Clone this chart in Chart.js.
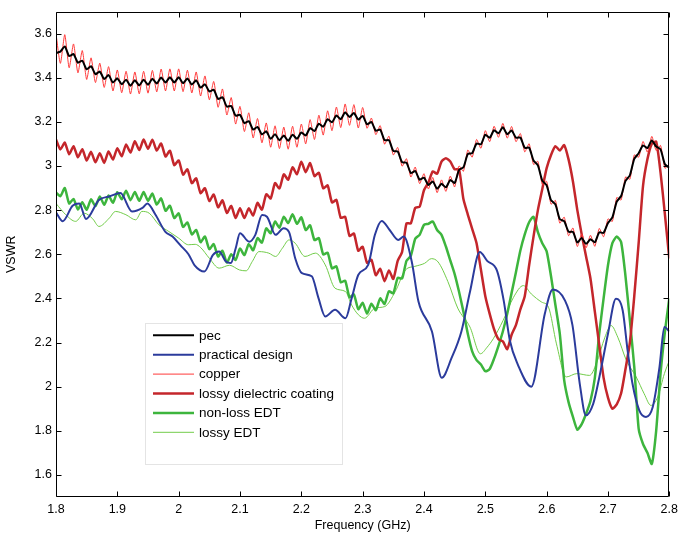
<!DOCTYPE html>
<html><head><meta charset="utf-8">
<script src="https://cdn.jsdelivr.net/npm/chart.js@4.4.1/dist/chart.umd.min.js"></script>
<style>html,body{margin:0;padding:0;background:#fff;}#wrap{width:683px;height:537px;}</style>
</head><body><div id="wrap"><canvas id="c" width="683" height="537"></canvas></div>
<script>
const xTicks = [1.8,1.9,2.0,2.1,2.2,2.3,2.4,2.5,2.6,2.7,2.8];
const yTicks = [1.6,1.8,2.0,2.2,2.4,2.6,2.8,3.0,3.2,3.4,3.6];
const seriesNames = ['pec','practical design','copper','lossy dielectric coating','non-loss EDT','lossy EDT'];

// sampling grid (GHz) shared by the rippled series
const gridFreq = Array.from({length:141},(_,i)=>1.8+i/140);

const pecVswr = [
3.512,3.518,3.542,3.498,3.507,3.468,3.477,3.438,3.452,3.416,
3.428,3.394,3.412,3.378,3.397,3.370,3.391,3.364,3.388,3.365,
3.391,3.368,3.395,3.374,3.401,3.378,3.402,3.378,3.402,3.375,
3.396,3.369,3.388,3.355,3.370,3.338,3.345,3.304,3.311,3.269,
3.272,3.228,3.232,3.194,3.203,3.165,3.177,3.143,3.157,3.123,
3.144,3.117,3.138,3.114,3.142,3.123,3.152,3.138,3.172,3.158,
3.192,3.178,3.212,3.198,3.229,3.212,3.243,3.222,3.240,3.210,
3.227,3.189,3.199,3.160,3.165,3.117,3.117,3.068,3.066,3.017,
3.015,2.968,2.977,2.938,2.947,2.914,2.930,2.897,2.919,2.903,
2.936,2.923,2.982,2.994,3.054,3.058,3.102,3.098,3.142,3.128,
3.162,3.148,3.175,3.144,3.161,3.128,3.129,3.082,3.083,3.025,
3.003,2.934,2.912,2.845,2.826,2.759,2.750,2.702,2.701,2.653,
2.674,2.647,2.668,2.654,2.699,2.697,2.742,2.767,2.839,2.864,
2.932,2.958,3.032,3.058,3.093,3.081,3.116,3.088,3.075,3.008,
2.992];

const copperVswr = [
3.600,3.465,3.595,3.445,3.553,3.422,3.523,3.392,3.490,3.378,
3.466,3.356,3.450,3.340,3.435,3.332,3.429,3.326,3.426,3.327,
3.429,3.330,3.433,3.336,3.439,3.340,3.440,3.340,3.440,3.337,
3.434,3.331,3.426,3.317,3.408,3.300,3.383,3.266,3.349,3.231,
3.310,3.190,3.270,3.156,3.241,3.127,3.215,3.105,3.195,3.085,
3.182,3.079,3.176,3.076,3.180,3.085,3.190,3.100,3.210,3.120,
3.230,3.140,3.250,3.160,3.267,3.174,3.281,3.184,3.278,3.172,
3.265,3.171,3.217,3.142,3.183,3.099,3.135,3.050,3.084,2.999,
3.033,2.950,2.995,2.920,2.965,2.896,2.948,2.879,2.937,2.885,
2.954,2.905,3.000,2.976,3.072,3.040,3.120,3.080,3.160,3.110,
3.180,3.130,3.193,3.126,3.179,3.110,3.147,3.064,3.101,3.007,
3.021,2.916,2.930,2.827,2.844,2.741,2.768,2.684,2.719,2.635,
2.692,2.629,2.686,2.636,2.717,2.679,2.760,2.749,2.857,2.846,
2.950,2.940,3.050,3.040,3.111,3.063,3.134,3.070,3.093,2.990,
3.010];

const lossyCoatingVswr = [
3.120,3.075,3.106,3.053,3.090,3.039,3.076,3.025,3.064,3.017,
3.058,3.014,3.066,3.029,3.080,3.044,3.097,3.061,3.112,3.072,
3.120,3.078,3.119,3.070,3.102,3.043,3.069,3.004,3.025,2.961,
2.985,2.922,2.944,2.877,2.899,2.841,2.871,2.813,2.844,2.787,
2.819,2.764,2.808,2.764,2.808,2.776,2.833,2.802,2.872,2.853,
2.922,2.898,2.962,2.938,2.994,2.963,3.019,2.972,3.013,2.954,
2.969,2.899,2.912,2.835,2.846,2.765,2.770,2.683,2.694,2.616,
2.634,2.561,2.575,2.505,2.534,2.478,2.527,2.488,2.570,2.610,
2.740,2.740,2.810,2.815,2.890,2.925,2.975,2.965,3.020,3.035,
3.020,2.985,2.985,2.850,2.780,2.715,2.650,2.530,2.410,2.330,
2.260,2.215,2.205,2.170,2.235,2.280,2.350,2.410,2.550,2.680,
2.800,2.895,2.990,3.050,3.090,3.070,3.095,3.030,2.930,2.800,
2.690,2.590,2.490,2.340,2.190,2.040,1.950,1.900,1.920,1.970,
2.080,2.200,2.410,2.650,2.910,3.030,3.100,3.110,2.970,2.780,
2.580];

const nonLossEdtVswr = [
2.880,2.863,2.900,2.830,2.850,2.803,2.836,2.801,2.849,2.818,
2.862,2.824,2.866,2.833,2.881,2.849,2.888,2.845,2.882,2.842,
2.882,2.842,2.875,2.825,2.853,2.797,2.820,2.764,2.785,2.724,
2.744,2.690,2.710,2.655,2.680,2.623,2.646,2.590,2.616,2.562,
2.600,2.574,2.626,2.596,2.646,2.618,2.673,2.653,2.717,2.695,
2.748,2.720,2.770,2.741,2.781,2.738,2.767,2.710,2.731,2.664,
2.673,2.599,2.607,2.536,2.545,2.473,2.480,2.405,2.418,2.351,
2.380,2.331,2.376,2.346,2.400,2.375,2.432,2.423,2.493,2.490,
2.570,2.593,2.670,2.688,2.733,2.738,2.748,2.710,2.688,2.635,
2.572,2.510,2.430,2.340,2.240,2.160,2.120,2.100,2.070,2.080,
2.127,2.185,2.250,2.330,2.425,2.520,2.617,2.690,2.745,2.770,
2.700,2.650,2.613,2.500,2.370,2.240,2.030,1.930,1.863,1.805,
1.830,1.877,1.935,2.040,2.240,2.400,2.550,2.650,2.680,2.655,
2.500,2.300,2.090,1.810,1.740,1.700,1.650,1.800,2.060,2.250,
2.400];

const designFreq = [
1.800,1.811,1.827,1.838,1.849,1.870,1.887,1.905,1.924,1.941,
1.949,1.962,1.978,1.990,2.003,2.016,2.026,2.042,2.056,2.066,
2.077,2.085,2.093,2.100,2.115,2.125,2.136,2.144,2.158,2.171,
2.180,2.190,2.201,2.217,2.228,2.239,2.255,2.272,2.282,2.293,
2.309,2.320,2.331,2.344,2.358,2.367,2.380,2.391,2.413,2.429,
2.445,2.461,2.475,2.491,2.503,2.519,2.530,2.540,2.553,2.575,
2.597,2.610,2.630,2.642,2.654,2.664,2.676,2.686,2.700,2.713,
2.724,2.732,2.740,2.751,2.762,2.773,2.784,2.792,2.800];
const designVswr = [
2.790,2.750,2.820,2.830,2.760,2.846,2.862,2.877,2.794,2.810,
2.830,2.780,2.703,2.680,2.640,2.600,2.550,2.522,2.597,2.612,
2.567,2.560,2.627,2.695,2.657,2.688,2.778,2.770,2.688,2.718,
2.700,2.582,2.514,2.500,2.401,2.318,2.348,2.310,2.400,2.507,
2.552,2.688,2.751,2.710,2.665,2.680,2.567,2.386,2.250,2.040,
2.130,2.250,2.430,2.610,2.570,2.526,2.390,2.209,2.100,2.000,
2.330,2.440,2.390,2.280,2.013,1.870,1.923,2.044,2.240,2.398,
2.345,2.164,2.013,1.893,1.863,1.908,2.089,2.270,2.250];

const lossyEdtFreq = [
1.800,1.816,1.832,1.846,1.860,1.870,1.887,1.897,1.914,1.930,
1.940,1.952,1.968,1.984,2.000,2.016,2.027,2.036,2.050,2.066,
2.083,2.099,2.110,2.120,2.131,2.147,2.158,2.169,2.180,2.190,
2.206,2.223,2.239,2.255,2.272,2.282,2.293,2.303,2.320,2.336,
2.353,2.370,2.385,2.401,2.412,2.423,2.439,2.455,2.475,2.492,
2.503,2.513,2.529,2.546,2.562,2.575,2.592,2.603,2.616,2.632,
2.649,2.670,2.681,2.695,2.705,2.716,2.730,2.746,2.759,2.770,
2.781,2.792,2.800];
const lossyEdtVswr = [
2.830,2.779,2.749,2.786,2.760,2.726,2.764,2.794,2.779,2.756,
2.794,2.786,2.733,2.703,2.673,2.643,2.645,2.630,2.582,2.537,
2.550,2.529,2.525,2.567,2.612,2.605,2.590,2.627,2.665,2.650,
2.590,2.605,2.552,2.446,2.431,2.370,2.326,2.310,2.356,2.363,
2.430,2.529,2.545,2.559,2.580,2.565,2.476,2.356,2.270,2.149,
2.179,2.217,2.300,2.405,2.458,2.420,2.383,2.360,2.194,2.044,
2.059,2.051,2.104,2.224,2.277,2.224,2.119,2.044,1.968,1.915,
1.953,2.059,2.119];

function pts(xs, ys){ return ys.map((y,i)=>({x:xs[i], y:y})); }
function fmt(v){ return String(+Number(v).toFixed(2)); }

const FONT = '"Liberation Sans", Arial, Helvetica, sans-serif';
Chart.defaults.font.family = FONT;
Chart.defaults.color = '#000';

const datasets = [
 {label:seriesNames[0], data:pts(gridFreq,pecVswr), borderColor:'#000000', borderWidth:2, tension:0.2},
 {label:seriesNames[1], data:pts(designFreq,designVswr), borderColor:'#2b3b9c', borderWidth:2, cubicInterpolationMode:'monotone'},
 {label:seriesNames[2], data:pts(gridFreq,copperVswr), borderColor:'#ff3a3a', borderWidth:1, tension:0.2},
 {label:seriesNames[3], data:pts(gridFreq,lossyCoatingVswr), borderColor:'#c4262b', borderWidth:2.5, tension:0.2},
 {label:seriesNames[4], data:pts(gridFreq,nonLossEdtVswr), borderColor:'#3db53d', borderWidth:2.5, tension:0.2},
 {label:seriesNames[5], data:pts(lossyEdtFreq,lossyEdtVswr), borderColor:'#72cc4a', borderWidth:1, cubicInterpolationMode:'monotone'}
];
datasets.forEach(d=>{ d.fill=false; d.pointRadius=0; d.backgroundColor=d.borderColor; });

const framePlugin = {
 id:'frame',
 afterDatasetsDraw(chart){
  const {ctx, chartArea:a, scales} = chart;
  const x = scales.x, y = scales.y;
  ctx.save();
  ctx.strokeStyle = '#000'; ctx.lineWidth = 1;
  ctx.beginPath();
  const L = Math.round(a.left)+0.5, R = Math.round(a.right)-0.5, T = Math.round(a.top)+0.5, B = Math.round(a.bottom)-0.5;
  ctx.rect(L, T, R-L, B-T);
  x.ticks.forEach(t=>{ const p = Math.round(x.getPixelForValue(t.value))+0.5; ctx.moveTo(p,B); ctx.lineTo(p,B-5); ctx.moveTo(p,T); ctx.lineTo(p,T+5); });
  y.ticks.forEach(t=>{ const p = Math.round(y.getPixelForValue(t.value))+0.5; ctx.moveTo(L,p); ctx.lineTo(L+5,p); ctx.moveTo(R,p); ctx.lineTo(R-5,p); });
  ctx.stroke();
  // legend box
  const bx = 145, by = 323, bw = 197, bh = 141;
  ctx.fillStyle = '#fff';
  ctx.fillRect(bx, by, bw, bh);
  ctx.strokeStyle = '#e4e4e4';
  ctx.strokeRect(bx+0.5, by+0.5, bw, bh);
  ctx.font = '13.5px ' + FONT;
  ctx.textBaseline = 'middle';
  ctx.fillStyle = '#000';
  chart.data.datasets.forEach((d,i)=>{
   const ry = 335.3 + i*19.4;
   ctx.strokeStyle = d.borderColor; ctx.lineWidth = d.borderWidth;
   ctx.beginPath(); ctx.moveTo(153, ry); ctx.lineTo(194, ry); ctx.stroke();
   ctx.fillText(d.label, 199, ry+0.5);
  });
  ctx.restore();
 }
};

new Chart(document.getElementById('c'), {
 type:'line',
 data:{datasets},
 options:{
  responsive:false, animation:false, devicePixelRatio:1,
  layout:{padding:{left:0,right:11,top:10,bottom:0}},
  plugins:{legend:{display:false}, tooltip:{enabled:false}},
  elements:{point:{radius:0}},
  scales:{
   x:{type:'linear', min:1.8, max:2.8,
      afterBuildTicks:s=>{ s.ticks = xTicks.map(v=>({value:v})); },
      afterFit:s=>{ s.height = 40; },
      grid:{display:false, drawTicks:false}, border:{display:false},
      ticks:{padding:5, color:'#000', font:{size:12.5}, callback:v=>fmt(v), maxRotation:0, autoSkip:false},
      title:{display:true, text:'Frequency (GHz)', color:'#000', font:{size:12.5}, padding:{top:0,bottom:4}}},
   y:{type:'linear', min:1.5, max:3.7,
      afterBuildTicks:s=>{ s.ticks = yTicks.map(v=>({value:v})); },
      afterFit:s=>{ s.width = 56; },
      grid:{display:false, drawTicks:false}, border:{display:false},
      ticks:{padding:4, color:'#000', font:{size:12.5}, callback:v=>fmt(v), autoSkip:false},
      title:{display:true, text:'VSWR', color:'#000', font:{size:12.5}, padding:{top:4,bottom:0}}}
  }
 },
 plugins:[framePlugin]
});
</script>
</body></html>
